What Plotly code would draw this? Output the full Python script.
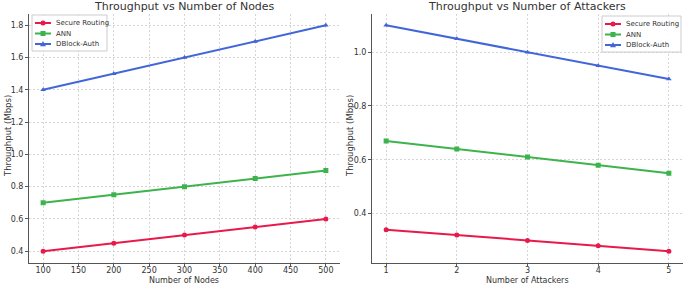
import plotly.graph_objects as go

nodes = [100, 200, 300, 400, 500]
nodes_secure = [0.40, 0.45, 0.50, 0.55, 0.60]
nodes_ann = [0.70, 0.75, 0.80, 0.85, 0.90]
nodes_dblock = [1.40, 1.50, 1.60, 1.70, 1.80]

attackers = [1, 2, 3, 4, 5]
att_secure = [0.34, 0.32, 0.30, 0.28, 0.26]
att_ann = [0.67, 0.64, 0.61, 0.58, 0.55]
att_dblock = [1.10, 1.05, 1.00, 0.95, 0.90]

names = ["Secure Routing", "ANN", "DBlock-Auth"]
colors = ["#e8194b", "#3cb44b", "#4266d8"]
symbols = ["circle", "square", "triangle-up"]

W, H = 685, 284
FONT = "DejaVu Sans"
TXT = "#333333"


def px_x(p):
    return p / W


def px_y(p):
    return 1 - p / H


fig = go.Figure()

left_series = [nodes_secure, nodes_ann, nodes_dblock]
right_series = [att_secure, att_ann, att_dblock]

for i in range(3):
    fig.add_trace(go.Scatter(
        x=nodes, y=left_series[i], name=names[i], mode="lines+markers",
        line=dict(color=colors[i], width=2),
        marker=dict(symbol=symbols[i], size=5, color=colors[i]),
        xaxis="x", yaxis="y", showlegend=False))
for i in range(3):
    fig.add_trace(go.Scatter(
        x=attackers, y=right_series[i], name=names[i], mode="lines+markers",
        line=dict(color=colors[i], width=2),
        marker=dict(symbol=symbols[i], size=5, color=colors[i]),
        xaxis="x2", yaxis="y2", showlegend=False))

axis_common = dict(
    showline=True, linecolor="#555555", linewidth=1, mirror=False,
    ticks="outside", ticklen=3, tickcolor="#555555", tickwidth=1,
    showgrid=True, gridcolor="#d6d6d6", griddash="2px,2px", gridwidth=1,
    zeroline=False, tickfont=dict(family=FONT, size=8, color=TXT),
)

lx0, lx1 = px_x(29), px_x(340)
rx0, rx1 = px_x(372), px_x(683)
y0, y1 = px_y(262.5), px_y(14)

ax_x = dict(axis_common)
ax_x.update(ticklen=2, ticklabelstandoff=-2)

fig.update_layout(
    width=W, height=H,
    margin=dict(l=0, r=0, t=0, b=0),
    paper_bgcolor="white", plot_bgcolor="white",
    font=dict(family=FONT, color=TXT),
    showlegend=False,
    xaxis=dict(domain=[lx0, lx1], range=[80, 520], tickvals=[100, 150, 200, 250, 300, 350, 400, 450, 500], anchor="y", **ax_x),
    yaxis=dict(domain=[y0, y1], range=[0.33, 1.87], tickvals=[0.4, 0.6, 0.8, 1.0, 1.2, 1.4, 1.6, 1.8], tickformat=".1f", anchor="x", **axis_common),
    xaxis2=dict(domain=[rx0, rx1], range=[0.8, 5.2], tickvals=[1, 2, 3, 4, 5], anchor="y2", **ax_x),
    yaxis2=dict(domain=[y0, y1], range=[0.218, 1.142], tickvals=[0.4, 0.6, 0.8, 1.0], tickformat=".1f", anchor="x2", **axis_common),
)

annots = [
    dict(text="Throughput vs Number of Nodes", x=184, y=7, size=11, angle=0),
    dict(text="Throughput vs Number of Attackers", x=527, y=7, size=11, angle=0),
    dict(text="Number of Nodes", x=184, y=280, size=8, angle=0),
    dict(text="Number of Attackers", x=527, y=280, size=8, angle=0),
    dict(text="Throughput (Mbps)", x=8, y=136, size=8.5, angle=-90),
    dict(text="Throughput (Mbps)", x=350, y=136, size=8.5, angle=-90),
]
for a in annots:
    fig.add_annotation(xref="paper", yref="paper", showarrow=False,
                       xanchor="center", yanchor="middle",
                       text=a["text"], x=px_x(a["x"]), y=px_y(a["y"]),
                       textangle=a["angle"],
                       font=dict(family=FONT, color=TXT, size=a["size"]))

# Manual legends (matplotlib-style compact boxes)
legend_boxes = [(32, 15, 107, 51), (602, 16, 681, 52)]
row_offsets = [8, 18.5, 29]
for (bx0, by0, bx1, by1) in legend_boxes:
    fig.add_shape(type="rect", xref="paper", yref="paper",
                  x0=px_x(bx0), x1=px_x(bx1), y0=px_y(by1), y1=px_y(by0),
                  line=dict(color="#cccccc", width=1),
                  fillcolor="rgba(255,255,255,0.85)", layer="above")
    for i in range(3):
        cy = by0 + row_offsets[i]
        sx0, sx1 = bx0 + 3, bx0 + 19
        mx = (sx0 + sx1) / 2
        fig.add_shape(type="line", xref="paper", yref="paper",
                      x0=px_x(sx0), x1=px_x(sx1), y0=px_y(cy), y1=px_y(cy),
                      line=dict(color=colors[i], width=2), layer="above")
        r = 2.5
        if symbols[i] == "circle":
            fig.add_shape(type="circle", xref="paper", yref="paper",
                          x0=px_x(mx - r), x1=px_x(mx + r), y0=px_y(cy + r), y1=px_y(cy - r),
                          line=dict(width=0), fillcolor=colors[i], layer="above")
        elif symbols[i] == "square":
            fig.add_shape(type="rect", xref="paper", yref="paper",
                          x0=px_x(mx - r), x1=px_x(mx + r), y0=px_y(cy + r), y1=px_y(cy - r),
                          line=dict(width=0), fillcolor=colors[i], layer="above")
        else:
            path = "M {:.5f},{:.5f} L {:.5f},{:.5f} L {:.5f},{:.5f} Z".format(
                px_x(mx), px_y(cy - 3), px_x(mx - 3), px_y(cy + 2.2), px_x(mx + 3), px_y(cy + 2.2))
            fig.add_shape(type="path", xref="paper", yref="paper", path=path,
                          line=dict(width=0), fillcolor=colors[i], layer="above")
        fig.add_annotation(xref="paper", yref="paper", showarrow=False,
                           xanchor="left", yanchor="middle",
                           text=names[i], x=px_x(bx0 + 22), y=px_y(cy),
                           font=dict(family=FONT, color=TXT, size=7))

fig.write_html("out.html", config={"displayModeBar": False},
               post_script="document.body.style.margin='0';document.body.style.padding='0';")
